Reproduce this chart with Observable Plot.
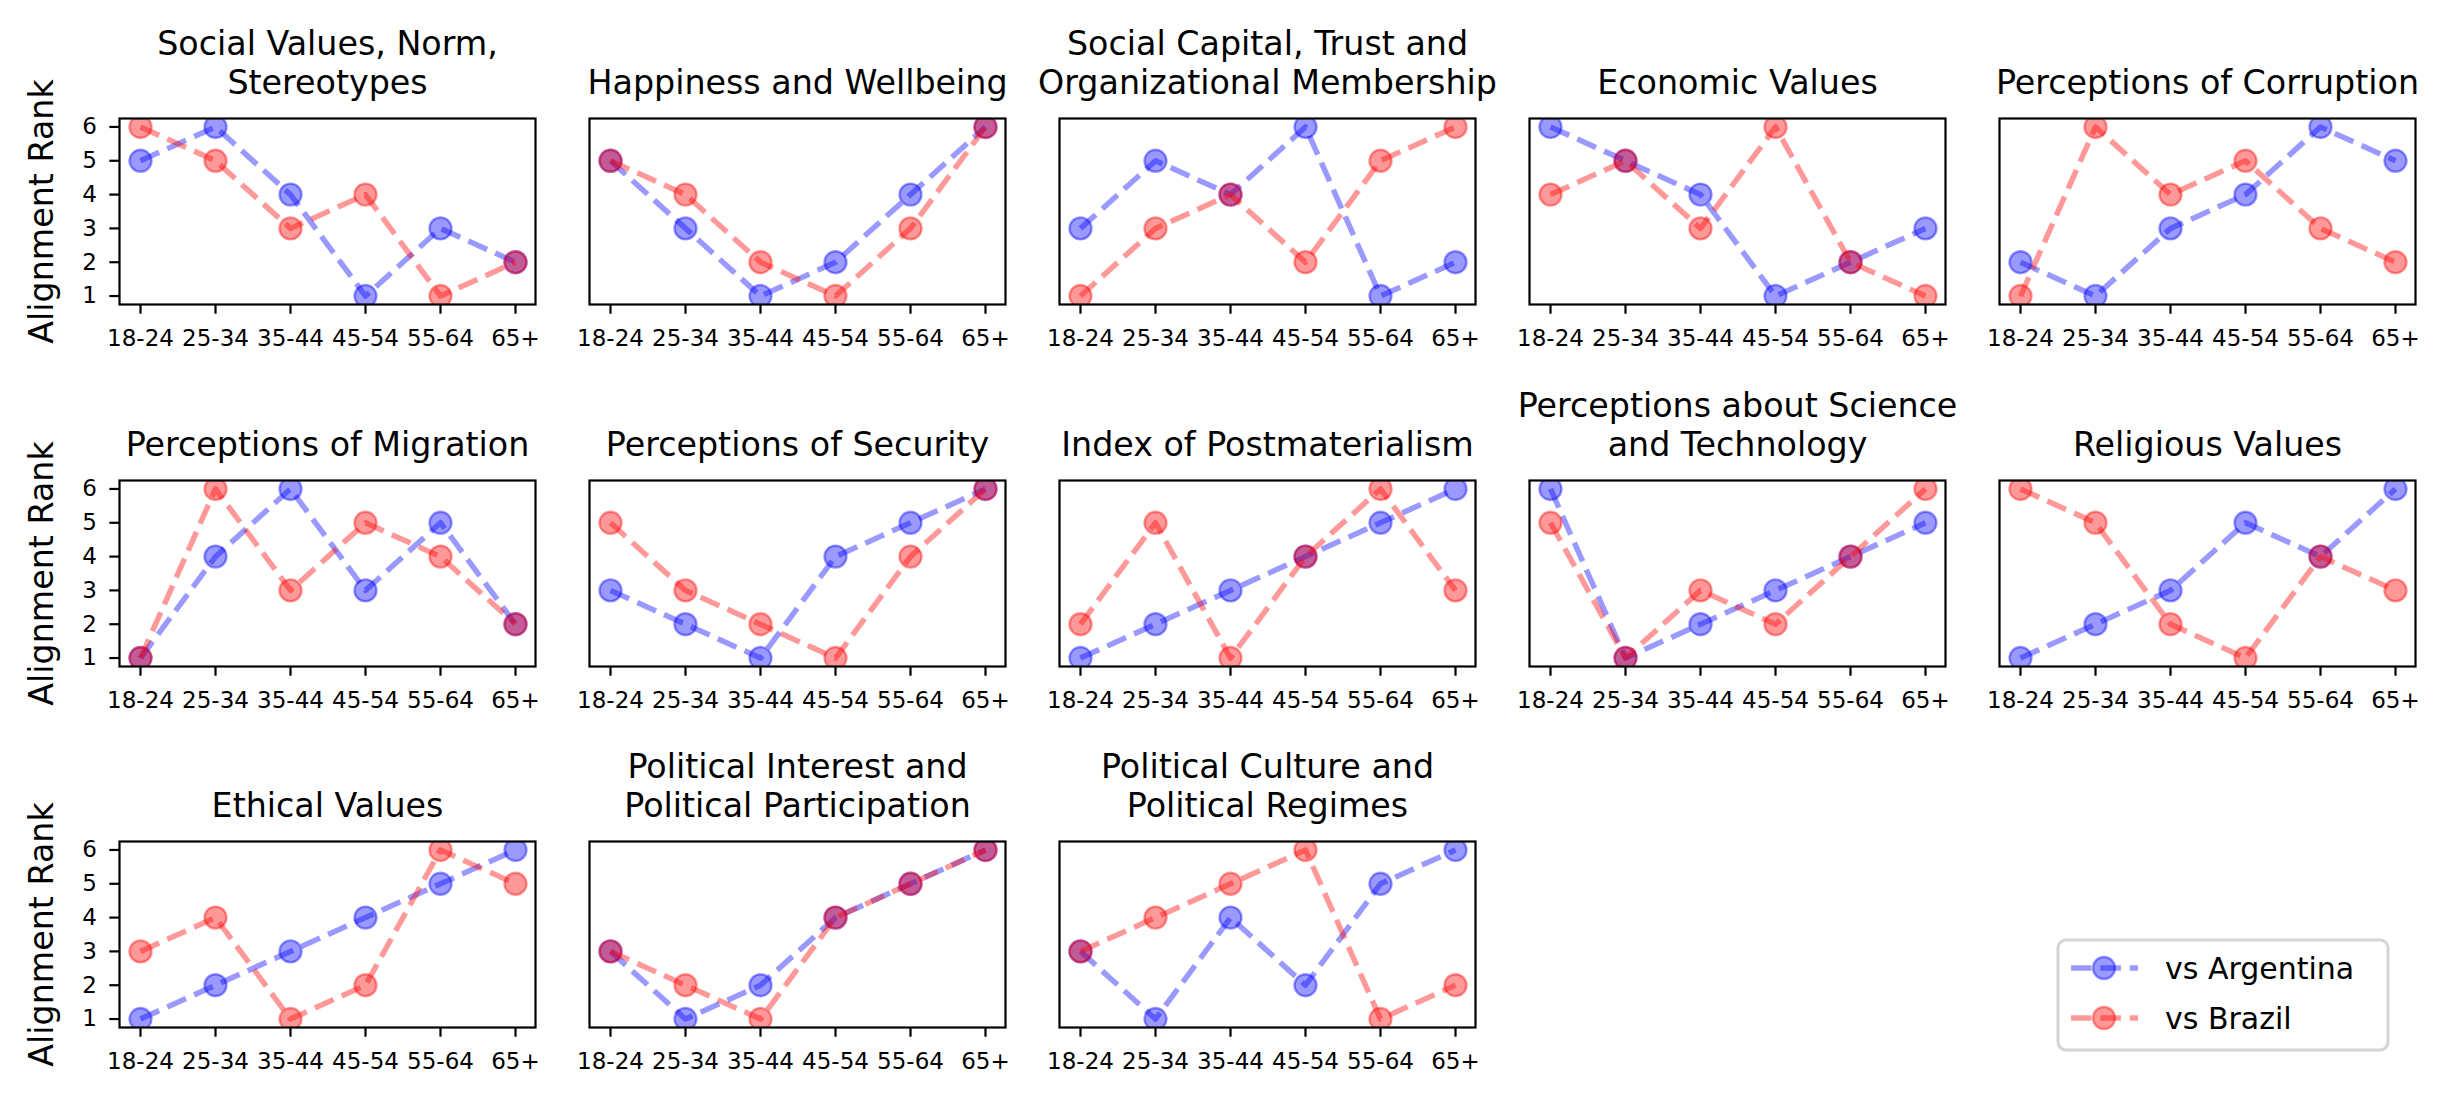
<!DOCTYPE html>
<html>
<head>
<meta charset="utf-8">
<script src="https://cdn.jsdelivr.net/npm/d3@7"></script>
<script src="https://cdn.jsdelivr.net/npm/@observablehq/plot@0.6"></script>
<style>
  body { margin: 0; background: #fff; }
  #fig { position: relative; width: 2450px; height: 1104px; background: #fff; overflow: hidden; font-family: "DejaVu Sans", sans-serif; }
  #fig .panel { position: absolute; }
  #fig .panel svg { overflow: visible; max-width: none; }
</style>
</head>
<body>
<div id="fig"></div>
<script>
// ---------- data ----------
const ages = ["18-24", "25-34", "35-44", "45-54", "55-64", "65+"];
const rankTicks = [1, 2, 3, 4, 5, 6];
const seriesNames = ["vs Argentina", "vs Brazil"];
const seriesColors = ["#0000ff", "#ff0000"];
const yLabel = "Alignment Rank";

const topics = [
  "Social Values, Norm,\nStereotypes",
  "Happiness and Wellbeing",
  "Social Capital, Trust and\nOrganizational Membership",
  "Economic Values",
  "Perceptions of Corruption",
  "Perceptions of Migration",
  "Perceptions of Security",
  "Index of Postmaterialism",
  "Perceptions about Science\nand Technology",
  "Religious Values",
  "Ethical Values",
  "Political Interest and\nPolitical Participation",
  "Political Culture and\nPolitical Regimes"
];

const argentinaRanks = [
  [5, 6, 4, 1, 3, 2],
  [5, 3, 1, 2, 4, 6],
  [3, 5, 4, 6, 1, 2],
  [6, 5, 4, 1, 2, 3],
  [2, 1, 3, 4, 6, 5],
  [1, 4, 6, 3, 5, 2],
  [3, 2, 1, 4, 5, 6],
  [1, 2, 3, 4, 5, 6],
  [6, 1, 2, 3, 4, 5],
  [1, 2, 3, 5, 4, 6],
  [1, 2, 3, 4, 5, 6],
  [3, 1, 2, 4, 5, 6],
  [3, 1, 4, 2, 5, 6]
];

const brazilRanks = [
  [6, 5, 3, 4, 1, 2],
  [5, 4, 2, 1, 3, 6],
  [1, 3, 4, 2, 5, 6],
  [4, 5, 3, 6, 2, 1],
  [1, 6, 4, 5, 3, 2],
  [1, 6, 3, 5, 4, 2],
  [5, 3, 2, 1, 4, 6],
  [2, 5, 1, 4, 6, 3],
  [5, 1, 3, 2, 4, 6],
  [6, 5, 2, 1, 4, 3],
  [3, 4, 1, 2, 6, 5],
  [3, 2, 1, 4, 5, 6],
  [3, 4, 5, 6, 1, 2]
];

// ---------- layout ----------
const colLeft = [119, 589, 1059, 1529, 1999];
const rowTop = [118, 479.5, 841];
const frameW = 416, frameH = 186;
const M = {left: 120, right: 40, top: 110, bottom: 70};
const dash = "20.5,8.9";

const fig = document.getElementById("fig");

topics.forEach((title, i) => {
  const col = i % 5, row = Math.floor(i / 5);
  const seriesRanks = [argentinaRanks[i], brazilRanks[i]];
  const marks = [];
  seriesNames.forEach((name, k) => {
    const d = ages.map((age, j) => ({series: name, age, rank: seriesRanks[k][j]}));
    marks.push(Plot.line(d, {
      x: "age", y: "rank", stroke: seriesColors[k], strokeOpacity: 0.4,
      strokeWidth: 5.5, strokeDasharray: dash, strokeLinecap: "butt", clip: "frame"
    }));
    marks.push(Plot.dot(d, {
      x: "age", y: "rank", r: 11, fill: seriesColors[k], fillOpacity: 0.4,
      stroke: seriesColors[k], strokeOpacity: 0.4, strokeWidth: 2.4, clip: "frame"
    }));
  });
  marks.push(Plot.frame({stroke: "black", strokeWidth: 2.2}));
  marks.push(Plot.axisX({tickSize: 9.7, tickPadding: 15.5, strokeWidth: 2.2, fontSize: 23, label: null}));
  if (col === 0) {
    marks.push(Plot.axisY({ticks: rankTicks, tickSize: 9.7, tickPadding: 13, strokeWidth: 2.2, fontSize: 23, label: null, tickFormat: d => String(d)}));
    marks.push(Plot.text([yLabel], {text: d => d, frameAnchor: "left", textAnchor: "middle", dx: -77, rotate: -90, fontSize: 33.3, fill: "black"}));
  }
  marks.push(Plot.text([title], {
    text: d => d, frameAnchor: "top", textAnchor: "middle", dy: -25, lineAnchor: "bottom",
    lineHeight: 1.15, fontSize: 33.3, fill: "black"
  }));

  const chart = Plot.plot({
    width: frameW + M.left + M.right,
    height: frameH + M.top + M.bottom,
    marginLeft: M.left, marginRight: M.right, marginTop: M.top, marginBottom: M.bottom,
    style: {fontFamily: "DejaVu Sans", color: "black", background: "transparent", overflow: "visible"},
    x: {type: "point", domain: ages, padding: 0.25, label: null},
    y: {domain: [0.75, 6.25], label: null, axis: col === 0 ? undefined : null},
    marks
  });
  const wrap = document.createElement("div");
  wrap.className = "panel";
  wrap.style.left = (colLeft[col] - M.left) + "px";
  wrap.style.top = (rowTop[row] - M.top) + "px";
  wrap.appendChild(chart);
  fig.appendChild(wrap);
});

// ---------- legend ----------
const legend = d3.select(fig).append("svg")
  .attr("width", 336).attr("height", 116)
  .style("position", "absolute").style("left", "2055px").style("top", "937px");
legend.append("rect")
  .attr("x", 3).attr("y", 3).attr("width", 330).attr("height", 110)
  .attr("rx", 8).attr("fill", "white").attr("stroke", "#d5d5d5").attr("stroke-width", 3);
const rowsY = [31, 81];
seriesNames.forEach((name, k) => {
  const g = legend.append("g").attr("transform", `translate(0,${rowsY[k]})`);
  g.append("line").attr("x1", 16).attr("x2", 83).attr("y1", 0).attr("y2", 0)
    .attr("stroke", seriesColors[k]).attr("stroke-opacity", 0.4)
    .attr("stroke-width", 5.5).attr("stroke-dasharray", dash);
  g.append("circle").attr("cx", 49).attr("cy", 0).attr("r", 11)
    .attr("fill", seriesColors[k]).attr("fill-opacity", 0.4)
    .attr("stroke", seriesColors[k]).attr("stroke-opacity", 0.4).attr("stroke-width", 2.4);
  g.append("text").attr("x", 110).attr("y", 0).attr("dy", "0.35em")
    .attr("font-family", "DejaVu Sans").attr("font-size", 30).attr("fill", "black")
    .text(name);
});
</script>
</body>
</html>
